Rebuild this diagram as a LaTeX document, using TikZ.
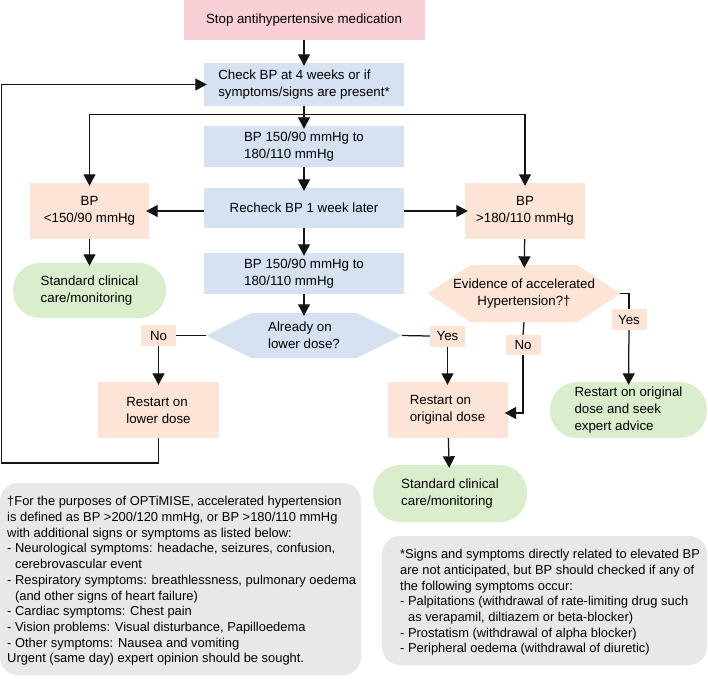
\documentclass[tikz,border=0pt]{standalone}
\usepackage{fontspec}
\setmainfont{Liberation Sans}
\usetikzlibrary{arrows.meta,backgrounds}
\definecolor{pinkF}{RGB}{249,208,213}
\definecolor{blueF}{RGB}{214,226,242}
\definecolor{peachF}{RGB}{252,228,214}
\definecolor{greenF}{RGB}{218,238,205}
\definecolor{greyF}{RGB}{232,232,234}
\definecolor{lineC}{RGB}{20,20,20}
\begin{document}
\begin{tikzpicture}[x=1pt,y=-1pt,
  base/.style={font=\fontsize{13.3}{17}\selectfont, inner sep=0pt, align=center},
  bluebox/.style={base, fill=blueF, minimum width=200pt},
  peachbox/.style={base, fill=peachF},
  greenbox/.style={base, fill=greenF, align=left, rounded corners=27pt},
  lab/.style={base, fill=peachF, minimum width=35pt, minimum height=21pt},
  notebox/.style={fill=greyF, rounded corners=18pt, inner sep=0pt},
  notetext/.style={font=\fontsize{12.9}{15.7}\selectfont, inner sep=0pt, align=left, anchor=west},
  ln/.style={line width=1.25pt, draw=lineC},
  arr/.style={line width=1.25pt, draw=lineC, shorten >=-3pt, -{Triangle[length=11.5pt,width=12pt]}}]
\useasboundingbox (0,0) rectangle (708,678);

% nodes
\node[base, fill=pinkF, minimum width=241pt, minimum height=40pt] (stop) at (304,20) {Stop antihypertensive medication};
\node[bluebox, minimum height=43pt, align=left] (check) at (304,84.5) {Check BP at 4 weeks or if\\symptoms/signs are present*};
\node[bluebox, minimum height=41pt, align=left] (bp1) at (304,146.5) {BP 150/90 mmHg to\\180/110 mmHg};
\node[bluebox, minimum height=40pt] (recheck) at (304,208) {Recheck BP 1 week later};
\node[peachbox, minimum width=119pt, minimum height=56pt] (low) at (89.5,211) {BP\\<150/90 mmHg};
\node[peachbox, minimum width=120pt, minimum height=56pt] (high) at (525,211) {BP\\>180/110 mmHg};
\node[greenbox, minimum width=153pt, minimum height=55pt] (care1) at (89.5,290.5) {Standard clinical\\care/monitoring};
\node[bluebox, minimum height=41pt, align=left] (bp2) at (304,273.5) {BP 150/90 mmHg to\\180/110 mmHg};
\node[base, align=left, minimum width=196pt, minimum height=45pt] (already) at (304,335.5) {Already on\\lower dose?};
\node[lab] (noL) at (158.5,335.5) {No};
\node[lab] (yesL) at (447.5,336) {Yes};
\node[peachbox, align=left, minimum width=121pt, minimum height=56pt] (lower) at (158.5,410) {Restart on\\lower dose};
\node[peachbox, align=left, minimum width=120pt, minimum height=56pt] (orig) at (447.5,410) {Restart on\\original dose};
\node[base, minimum width=192pt, minimum height=57pt] (evid) at (524,293.5) {Evidence of accelerated\\Hypertension?†};
\node[lab, minimum width=35pt, minimum height=20pt] (noE) at (523,345) {No};
\node[lab, minimum width=35pt, minimum height=21pt] (yesE) at (629,319.5) {Yes};
\node[greenbox, minimum width=157pt, minimum height=56pt] (care3) at (628.5,410) {Restart on original\\dose and seek\\expert advice};
\node[greenbox, minimum width=154pt, minimum height=57pt] (care2) at (450,493.5) {Standard clinical\\care/monitoring};

% notes
\node[notebox, minimum width=361pt, minimum height=192pt] (noteL) at (180.5,579) {};
\node[notetext] (noteLtext) at (7,581) {†For the purposes of OPTiMISE, accelerated hypertension\\
is defined as BP >200/120 mmHg, or BP >180/110 mmHg\\
with additional signs or symptoms as listed below:\\
- Neurological symptoms: headache, seizures, confusion,\\
\hphantom{- }cerebrovascular event\\
- Respiratory symptoms: breathlessness, pulmonary oedema\\
\hphantom{- }(and other signs of heart failure)\\
- Cardiac symptoms: Chest pain\\
- Vision problems: Visual disturbance, Papilloedema\\
- Other symptoms: Nausea and vomiting\\
Urgent (same day) expert opinion should be sought.};
\node[notebox, minimum width=325pt, minimum height=129pt] (noteR) at (544.5,600.5) {};
\node[notetext] (noteRtext) at (400,602.5) {*Signs and symptoms directly related to elevated BP\\
are not anticipated, but BP should checked if any of\\
the following symptoms occur:\\
- Palpitations (withdrawal of rate-limiting drug such\\
\hphantom{- }as verapamil, diltiazem or beta-blocker)\\
- Prostatism (withdrawal of alpha blocker)\\
- Peripheral oedema (withdrawal of diuretic)};

% hexagon fills
\begin{scope}[on background layer]
\fill[blueF] ([xshift=46pt]already.north west) -- ([xshift=-46pt]already.north east) -- (already.east)
  -- ([xshift=-46pt]already.south east) -- ([xshift=46pt]already.south west) -- (already.west) -- cycle;
\fill[peachF] ([xshift=43pt]evid.north west) -- ([xshift=-43pt]evid.north east) -- (evid.east)
  -- ([xshift=-43pt]evid.south east) -- ([xshift=43pt]evid.south west) -- (evid.west) -- cycle;
\end{scope}

% connectors
\coordinate (br) at (304,114.5);
\coordinate (loopB) at (1.5,463);
\draw[arr] (stop) -- (check);
\draw[arr] (check) -- (bp1);
\draw[arr] (br) -| (low.north);
\draw[arr] (br) -| (high.north);
\draw[arr] (bp1) -- (recheck);
\draw[arr] (recheck.west |- low.east) -- (low.east);
\draw[arr] (recheck.east |- high.west) -- (high.west);
\draw[arr] (low) -- (care1);
\draw[arr] (recheck) -- (bp2);
\draw[arr] (bp2) -- (already);
\draw[ln] (already.west) -- (noL.east);
\draw[ln] (already.east) -- (yesL.west);
\draw[arr] (noL) -- (lower);
\draw[arr] (yesL) -- (orig);
\draw[arr] (high) -- (evid);
\draw[ln] (evid.south) -- (noE.north);
\draw[arr] (noE.south) |- ([yshift=-3pt]orig.east);
\draw[ln] (evid.east) -| (yesE.north);
\draw[arr] (yesE) -- (care3);
\draw[arr] (orig) -- (care2);
\draw[arr] (lower.south) -- (lower.south |- loopB) -- (loopB) |- (check.west);
\end{tikzpicture}
\end{document}
